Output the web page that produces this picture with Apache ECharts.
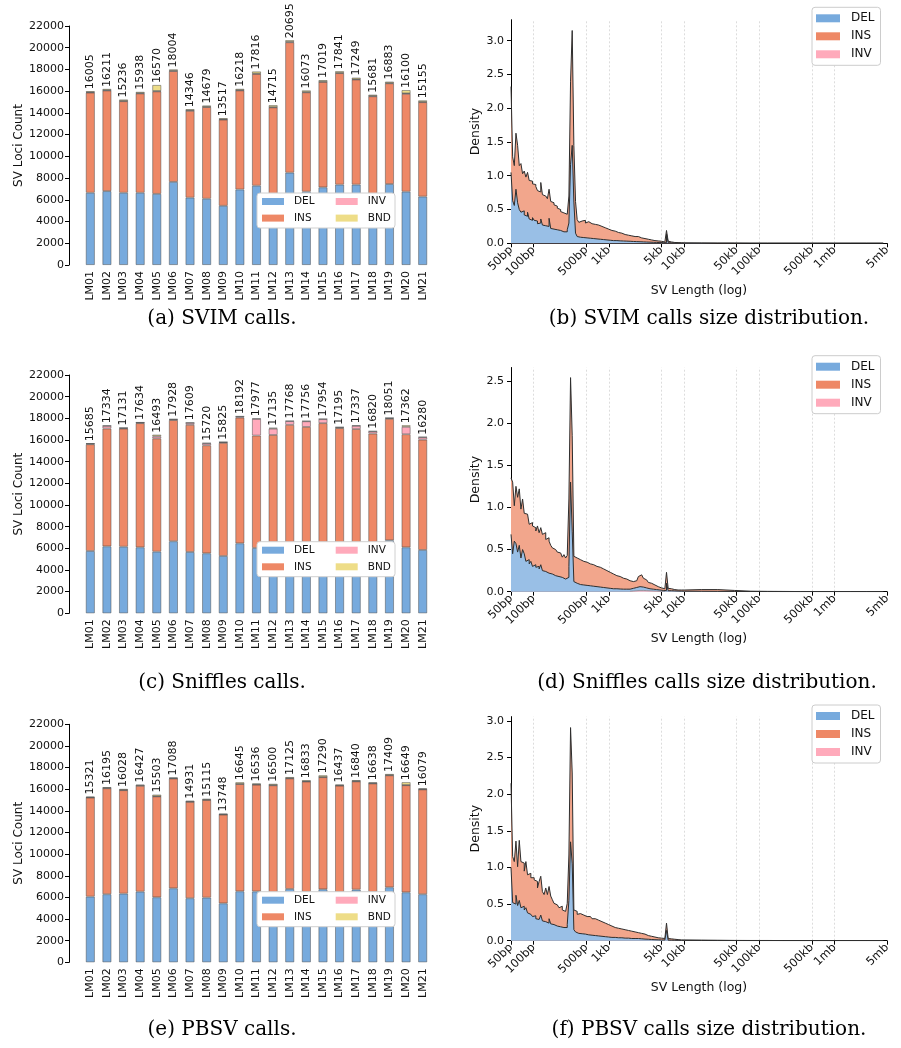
<!DOCTYPE html>
<html>
<head>
<meta charset="utf-8">
<title>SV calls and size distributions</title>
<script src="https://cdn.jsdelivr.net/npm/echarts@6/dist/echarts.min.js"></script>
<style>
  html, body { margin: 0; padding: 0; background: #fff; }
  #fig { width: 901px; height: 1048px; }
</style>
</head>
<body>
<div id="fig"></div>
<script type="text/javascript">
// ---- samples ----
var samples = ['LM01','LM02','LM03','LM04','LM05','LM06','LM07','LM08','LM09','LM10','LM11',
               'LM12','LM13','LM14','LM15','LM16','LM17','LM18','LM19','LM20','LM21'];

// ---- (a) SVIM counts ----
var svimTotal = [16005,16211,15236,15938,16570,18004,14346,14679,13517,16218,17816,14715,20695,16073,17019,17841,17249,15681,16883,16100,15155];
var svimDel = [6650,6800,6650,6650,6550,7650,6200,6100,5450,6950,7300,6200,8500,6750,7150,7400,7400,6400,7450,6750,6300];
var svimIns = [9215,9261,8426,9138,9430,10204,7996,8439,7927,9118,10286,8305,12005,9143,9699,10261,9669,9131,9273,9010,8685];
var svimInv = [30,30,30,30,40,30,30,30,30,30,30,30,40,30,30,30,30,30,30,40,30];
var svimBnd = [110,120,130,120,550,120,120,110,110,120,200,180,150,150,140,150,150,120,130,300,140];

// ---- (c) Sniffles counts ----
var sniffTotal = [15685,17334,17131,17634,16493,17928,17609,15720,15825,18192,17977,17135,17768,17756,17954,17195,17337,16820,18051,17362,16280];
var sniffDel = [5750,6180,6150,6090,5690,6650,5660,5540,5290,6460,6030,5900,6100,6000,6200,5900,6000,5800,6740,6090,5850];
var sniffIns = [9855,10874,10901,11464,10453,11188,11739,9970,10445,11602,10377,10565,11298,11206,11354,11195,11007,10790,11211,10442,10180];
var sniffInv = [50,250,50,50,200,60,180,180,60,100,1540,580,340,520,370,70,300,200,70,680,220];
var sniffBnd = [30,30,30,30,150,30,30,30,30,30,30,90,30,30,30,30,30,30,30,150,30];

// ---- (e) PBSV counts ----
var pbsvTotal = [15321,16195,16028,16427,15503,17088,14931,15115,13748,16645,16536,16500,17125,16833,17290,16437,16840,16638,17409,16649,16079];
var pbsvDel = [6070,6290,6350,6530,6010,6840,5920,5980,5450,6560,6550,6400,6780,6500,6750,6450,6720,6500,6930,6470,6290];
var pbsvIns = [9151,9795,9558,9787,9323,10148,8911,9025,8198,9915,9866,9960,10215,10203,10360,9877,10000,10028,10349,9899,9689];
var pbsvInv = [20,20,20,20,20,20,20,20,20,20,20,20,20,20,20,20,20,20,20,20,20];
var pbsvBnd = [80,90,100,90,150,80,80,90,80,150,100,120,110,110,160,90,100,90,110,260,80];

var countTicks = {min: 0, max: 22000, step: 2000};

// ---- size distributions (density over log10 length) ----
var lengthTicks = [50, 100, 500, 1000, 5000, 10000, 50000, 100000, 500000, 1000000, 5000000];
var lengthTickLabels = ['50bp','100bp','500bp','1kb','5kb','10kb','50kb','100kb','500kb','1mb','5mb'];
var densityTicks3 = [0, 0.5, 1.0, 1.5, 2.0, 2.5, 3.0];
var densityTicks25 = [0, 0.5, 1.0, 1.5, 2.0, 2.5];
// 105 narrow bins from 50bp, then 12 wide bins for the long tail
var fineBinWidth = 0.022, fineBinCount = 105, tailBinWidth = 0.22;

// outline of the INS layer (stacked on DEL), then the DEL layer
var svimHistIns = [
  2.32,1.28,1.15,1.63,1.45,1.15,1.18,1.03,1.07,0.98,
  1.05,0.93,0.92,0.88,0.87,0.84,0.78,0.76,0.90,0.72,
  0.70,0.68,0.66,0.80,0.62,0.60,0.57,0.55,0.52,0.50,
  0.47,0.45,0.46,0.43,0.45,0.70,2.40,3.15,1.45,0.62,
  0.35,0.31,0.33,0.31,0.34,0.30,0.32,0.30,0.29,0.30,
  0.28,0.29,0.27,0.26,0.25,0.24,0.23,0.22,0.21,0.20,
  0.19,0.19,0.18,0.17,0.16,0.15,0.15,0.14,0.13,0.13,
  0.12,0.12,0.11,0.11,0.10,0.10,0.10,0.09,0.08,0.08,
  0.07,0.07,0.06,0.06,0.05,0.05,0.04,0.04,0.035,0.03,
  0.03,0.025,0.02,0.02,0.19,0.03,0.02,0.015,0.012,0.01,
  0.01,0.008,0.007,0.006,0.005,
  0.004,0.003,0.003,0.002,0.002,0.002,0.002,0.002,0.002,0.002,0.002,0.002];
var svimHistDel = [
  1.05,0.63,0.56,0.80,0.60,0.50,0.46,0.48,0.42,0.40,
  0.46,0.36,0.34,0.38,0.34,0.33,0.29,0.30,0.36,0.27,
  0.26,0.26,0.25,0.37,0.22,0.21,0.21,0.20,0.19,0.19,
  0.18,0.17,0.16,0.17,0.20,0.30,1.17,1.45,0.61,0.15,
  0.10,0.09,0.09,0.085,0.085,0.08,0.08,0.075,0.075,0.07,
  0.07,0.065,0.065,0.06,0.06,0.055,0.055,0.05,0.05,0.045,
  0.045,0.04,0.04,0.04,0.038,0.036,0.035,0.034,0.033,0.032,
  0.03,0.03,0.028,0.027,0.026,0.025,0.024,0.023,0.022,0.021,
  0.02,0.019,0.018,0.017,0.016,0.015,0.014,0.013,0.012,0.011,
  0.01,0.01,0.009,0.009,0.14,0.009,0.008,0.007,0.006,0.006,
  0.005,0.005,0.004,0.004,0.004,
  0.003,0.002,0.002,0.001,0.001,0.001,0.001,0.001,0.001,0.001,0.001,0.001];

var sniffHistIns = [
  1.35,1.30,1.02,1.25,1.12,1.22,0.98,1.10,0.93,0.92,
  0.90,0.80,0.82,0.78,0.76,0.72,0.78,0.70,0.76,0.68,
  0.70,0.62,0.64,0.60,0.55,0.52,0.50,0.48,0.47,0.46,
  0.44,0.41,0.44,0.40,0.43,1.10,2.54,1.85,0.42,0.40,
  0.40,0.38,0.39,0.36,0.38,0.35,0.36,0.33,0.34,0.32,
  0.33,0.30,0.31,0.29,0.28,0.27,0.26,0.25,0.24,0.23,
  0.22,0.21,0.20,0.19,0.19,0.18,0.17,0.16,0.15,0.15,
  0.14,0.13,0.13,0.12,0.12,0.13,0.15,0.18,0.20,0.18,
  0.16,0.14,0.12,0.11,0.10,0.09,0.08,0.07,0.06,0.05,
  0.045,0.04,0.035,0.035,0.23,0.04,0.035,0.03,0.025,0.025,
  0.02,0.02,0.02,0.02,0.02,
  0.025,0.025,0.015,0.006,0.004,0.003,0.002,0.002,0.002,0.002,0.002,0.002];
var sniffHistDel = [
  0.68,0.45,0.60,0.57,0.47,0.55,0.40,0.50,0.45,0.36,
  0.38,0.33,0.36,0.30,0.32,0.29,0.30,0.27,0.32,0.25,
  0.24,0.25,0.22,0.24,0.21,0.20,0.19,0.18,0.18,0.17,
  0.17,0.16,0.15,0.14,0.17,0.30,1.30,0.71,0.12,0.10,
  0.09,0.085,0.08,0.08,0.075,0.075,0.07,0.07,0.065,0.065,
  0.06,0.06,0.055,0.055,0.05,0.05,0.045,0.045,0.04,0.04,
  0.04,0.035,0.035,0.035,0.033,0.032,0.031,0.03,0.03,0.03,
  0.03,0.03,0.035,0.04,0.045,0.05,0.055,0.06,0.06,0.055,
  0.05,0.045,0.04,0.035,0.03,0.03,0.025,0.025,0.02,0.02,
  0.02,0.015,0.015,0.015,0.10,0.012,0.012,0.01,0.01,0.01,
  0.008,0.008,0.007,0.007,0.006,
  0.005,0.004,0.003,0.002,0.002,0.001,0.001,0.001,0.001,0.001,0.001,0.001];
// small INV bump, starting at bin 72
var sniffHistInvFirstBin = 72;
var sniffHistInv = [0.005,0.008,0.01,0.012,0.014,0.015,0.015,0.015,0.014,0.013,0.012,
                    0.011,0.01,0.009,0.008,0.007,0.006,0.005,0.004,0.003,0.002];

var pbsvHistIns = [
  2.15,1.15,1.08,1.36,1.01,1.37,1.08,1.06,0.95,1.08,
  0.90,0.92,0.86,0.86,0.83,0.81,0.72,0.81,0.88,0.67,
  0.63,0.72,0.63,0.74,0.61,0.56,0.51,0.49,0.47,0.45,
  0.47,0.42,0.40,0.42,0.51,1.17,2.91,2.29,0.42,0.40,
  0.36,0.37,0.36,0.35,0.35,0.33,0.32,0.33,0.31,0.30,
  0.30,0.29,0.28,0.27,0.26,0.25,0.24,0.23,0.22,0.21,
  0.20,0.19,0.18,0.18,0.17,0.16,0.16,0.15,0.15,0.14,
  0.14,0.13,0.13,0.13,0.12,0.12,0.11,0.11,0.10,0.09,
  0.09,0.08,0.07,0.07,0.06,0.06,0.05,0.05,0.04,0.04,
  0.035,0.03,0.03,0.03,0.24,0.03,0.025,0.02,0.02,0.015,
  0.015,0.01,0.01,0.01,0.01,
  0.008,0.006,0.004,0.003,0.003,0.002,0.002,0.002,0.002,0.002,0.002,0.002];
var pbsvHistDel = [
  1.00,0.52,0.50,0.62,0.48,0.55,0.45,0.47,0.42,0.45,
  0.38,0.36,0.37,0.33,0.34,0.30,0.29,0.31,0.35,0.27,
  0.26,0.27,0.24,0.30,0.23,0.22,0.21,0.20,0.20,0.19,
  0.19,0.18,0.17,0.18,0.22,0.55,1.35,1.05,0.15,0.12,
  0.10,0.10,0.095,0.09,0.09,0.085,0.08,0.08,0.075,0.075,
  0.07,0.07,0.065,0.065,0.06,0.06,0.055,0.055,0.05,0.05,
  0.045,0.045,0.045,0.04,0.04,0.04,0.04,0.035,0.035,0.035,
  0.035,0.03,0.03,0.03,0.03,0.03,0.03,0.028,0.026,0.024,
  0.022,0.02,0.02,0.018,0.016,0.015,0.014,0.013,0.012,0.011,
  0.01,0.01,0.01,0.01,0.14,0.008,0.007,0.007,0.006,0.006,
  0.005,0.005,0.005,0.004,0.004,
  0.003,0.002,0.002,0.001,0.001,0.001,0.001,0.001,0.001,0.001,0.001,0.001];

var captions = ['(a) SVIM calls.', '(b) SVIM calls size distribution.',
                '(c) Sniffles calls.', '(d) Sniffles calls size distribution.',
                '(e) PBSV calls.', '(f) PBSV calls size distribution.'];

// ---------------------------------------------------------------
var SANS = 'DejaVu Sans', SERIF = 'DejaVu Serif';
var colors = {DEL: '#77AADD', INS: '#EE8866', INV: '#FFAABB', BND: '#EEDD88'};
var fills = {DEL: '#99bfe6', INS: '#f2a68c', INV: '#ffc4cf'};
var ink = '#111';

function binEdge(k) {
    var start = Math.log10(50);
    if (k <= fineBinCount) return start + k * fineBinWidth;
    return start + fineBinCount * fineBinWidth + (k - fineBinCount) * tailBinWidth;
}
function steps(values, first) {
    first = first || 0;
    var pts = values.map(function (v, j) { return [binEdge(first + j), v]; });
    pts.push([binEdge(first + values.length), values[values.length - 1]]);
    return pts;
}
var tickLogs = lengthTicks.map(function (v) { return Math.log10(v); });
function lengthLabel(v) {
    for (var i = 0; i < tickLogs.length; i++) {
        if (Math.abs(tickLogs[i] - v) < 1e-6) return lengthTickLabels[i];
    }
    return '';
}

var barPanels = [
    {top: 26, height: 239, legendTop: 193, total: svimTotal, del: svimDel, ins: svimIns, inv: svimInv, bnd: svimBnd},
    {top: 375, height: 238.3, legendTop: 541.7, total: sniffTotal, del: sniffDel, ins: sniffIns, inv: sniffInv, bnd: sniffBnd},
    {top: 724.3, height: 238, legendTop: 891.7, total: pbsvTotal, del: pbsvDel, ins: pbsvIns, inv: pbsvInv, bnd: pbsvBnd}
];
var histPanels = [
    {top: 19.7, height: 223.6, ymax: 3.31, yticks: densityTicks3, legendTop: 7.3, del: svimHistDel, ins: svimHistIns, inv: []},
    {top: 367.5, height: 224.2, ymax: 2.66, yticks: densityTicks25, legendTop: 355.7, del: sniffHistDel, ins: sniffHistIns, inv: steps(sniffHistInv, sniffHistInvFirstBin)},
    {top: 716.6, height: 224.1, ymax: 3.06, yticks: densityTicks3, legendTop: 705, del: pbsvHistDel, ins: pbsvHistIns, inv: []}
];

var grids = [], xAxes = [], yAxes = [], series = [], legends = [], graphics = [];
var axisText = {fontFamily: SANS, fontSize: 11, color: ink};

// ------ stacked bar panels (a), (c), (e) ------
barPanels.forEach(function (p, i) {
    grids.push({left: 82, width: 349, top: p.top, height: p.height});
    xAxes.push({
        type: 'category', gridIndex: i, data: samples,
        axisLine: {show: false}, axisTick: {show: false},
        axisLabel: Object.assign({rotate: 90, interval: 0, margin: 6}, axisText)
    });
    yAxes.push({
        type: 'value', gridIndex: i, min: countTicks.min, max: countTicks.max, interval: countTicks.step,
        offset: 13,
        name: 'SV Loci Count', nameLocation: 'middle', nameGap: 39,
        nameTextStyle: {fontFamily: SANS, fontSize: 12, color: ink},
        axisLine: {show: true, lineStyle: {color: '#000', width: 1}},
        axisTick: {show: true, length: 4, lineStyle: {color: '#000'}},
        axisLabel: Object.assign({margin: 5, formatter: function (v) { return String(v); }}, axisText),
        splitLine: {show: false}
    });
    var layers = [['DEL', p.del], ['INS', p.ins], ['INV', p.inv], ['BND', p.bnd]];
    layers.forEach(function (l, j) {
        var s = {
            type: 'bar', name: l[0], data: l[1], stack: 'counts' + i,
            xAxisIndex: i, yAxisIndex: i, barWidth: 9,
            itemStyle: {color: colors[l[0]], borderColor: 'rgba(70,70,70,0.6)', borderWidth: 0.8}
        };
        if (j === 3) {
            s.label = {
                show: true, position: 'top', distance: 2, rotate: 90,
                align: 'left', verticalAlign: 'middle',
                fontFamily: SANS, fontSize: 11, color: ink,
                formatter: function (prm) { return String(p.total[prm.dataIndex]); }
            };
        }
        series.push(s);
    });
    // legend frame drawn above the bars, two columns of entries
    graphics.push({
        type: 'rect', z: 10,
        shape: {x: 257, y: p.legendTop, width: 138, height: 35, r: 3},
        style: {fill: '#fff', stroke: '#d0d0d0', lineWidth: 1}
    });
    [[['DEL', 'INS'], 262], [['INV', 'BND'], 335.7]].forEach(function (col) {
        legends.push({
            data: col[0], orient: 'vertical', left: col[1], top: p.legendTop + 2.5,
            padding: 0, itemWidth: 22, itemHeight: 7, itemGap: 4.6, icon: 'rect',
            selectedMode: false, z: 12,
            itemStyle: {borderWidth: 0},
            textStyle: {fontFamily: SANS, fontSize: 10.5, lineHeight: 12, color: ink, padding: [0, 0, 0, 5]}
        });
    });
});

// ------ size distribution panels (b), (d), (f) ------
histPanels.forEach(function (p, n) {
    var i = n + 3;
    grids.push({left: 511, width: 376, top: p.top, height: p.height});
    xAxes.push({
        type: 'value', gridIndex: i, min: tickLogs[0], max: tickLogs[tickLogs.length - 1],
        name: 'SV Length (log)', nameLocation: 'middle', nameGap: 41,
        nameTextStyle: {fontFamily: SANS, fontSize: 12.5, color: ink},
        axisLine: {show: true, lineStyle: {color: '#000', width: 1}},
        axisTick: {show: true, length: 4, customValues: tickLogs, lineStyle: {color: '#000'}},
        axisLabel: Object.assign({customValues: tickLogs, rotate: 45, margin: 5, formatter: lengthLabel},
                                 axisText, {fontSize: 11.5}),
        splitLine: {show: false}
    });
    yAxes.push({
        type: 'value', gridIndex: i, min: 0, max: p.ymax,
        name: 'Density', nameLocation: 'middle', nameGap: 27,
        nameTextStyle: {fontFamily: SANS, fontSize: 12.5, color: ink},
        axisLine: {show: true, lineStyle: {color: '#000', width: 1}},
        axisTick: {show: true, length: 4, customValues: p.yticks, lineStyle: {color: '#000'}},
        axisLabel: Object.assign({customValues: p.yticks, margin: 7,
            formatter: function (v) { return v.toFixed(1); }}, axisText),
        splitLine: {show: false}
    });
    var base = {
        type: 'line', step: 'end', symbol: 'none', showSymbol: false,
        xAxisIndex: i, yAxisIndex: i, silent: true,
        lineStyle: {color: '#2e2e2e', width: 1}
    };
    series.push(Object.assign({}, base, {
        name: 'INS', data: steps(p.ins), z: 2,
        itemStyle: {color: colors.INS}, areaStyle: {color: fills.INS, opacity: 1},
        markLine: {
            silent: true, z: 1, symbol: ['none', 'none'], label: {show: false},
            lineStyle: {color: '#d4d4d4', type: [2, 2], width: 0.8},
            data: tickLogs.slice(1, -1).map(function (v) { return {xAxis: v}; })
        }
    }));
    series.push(Object.assign({}, base, {
        name: 'DEL', data: steps(p.del), z: 3,
        itemStyle: {color: colors.DEL}, areaStyle: {color: fills.DEL, opacity: 1}
    }));
    series.push(Object.assign({}, base, {
        name: 'INV', data: p.inv, z: 4,
        itemStyle: {color: colors.INV}, areaStyle: {color: fills.INV, opacity: 1},
        lineStyle: {color: '#777', width: 0.6}
    }));
    legends.push({
        data: ['DEL', 'INS', 'INV'], orient: 'vertical', left: 812, top: p.legendTop,
        padding: [4, 6, 4, 4], itemWidth: 24, itemHeight: 8, itemGap: 4, icon: 'rect',
        selectedMode: false, z: 12,
        backgroundColor: '#fff', borderColor: '#cccccc', borderWidth: 1, borderRadius: 3,
        itemStyle: {borderWidth: 0},
        textStyle: {fontFamily: SANS, fontSize: 12, lineHeight: 14, color: ink, padding: [0, 0, 0, 6]}
    });
});

// ------ captions ------
var captionPos = [[222, 319], [709, 319], [222, 683], [707, 683], [222, 1030], [709, 1030]];
captions.forEach(function (c, k) {
    graphics.push({
        type: 'text', x: captionPos[k][0], y: captionPos[k][1], z: 10,
        style: {text: c, font: '20px "' + SERIF + '"', fill: '#000',
                textAlign: 'center', textVerticalAlign: 'middle'}
    });
});

var chart = echarts.init(document.getElementById('fig'));
chart.setOption({
    animation: false,
    backgroundColor: '#fff',
    textStyle: {fontFamily: SANS},
    grid: grids,
    xAxis: xAxes,
    yAxis: yAxes,
    legend: legends,
    series: series,
    graphic: graphics
});
</script>
</body>
</html>
